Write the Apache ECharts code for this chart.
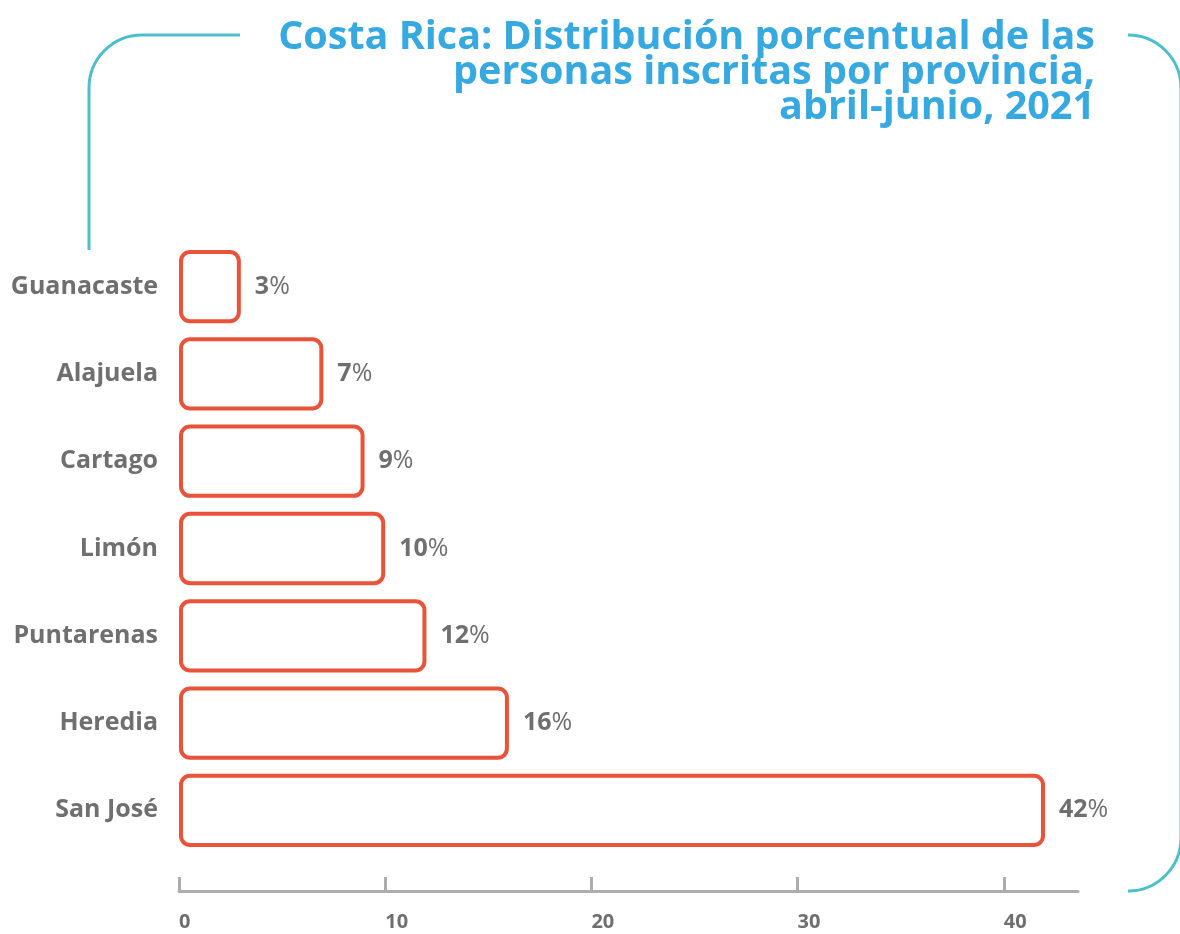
<!DOCTYPE html>
<html>
<head>
<meta charset="utf-8">
<style>
  html, body { margin: 0; padding: 0; background: #ffffff; }
  #chart { width: 1180px; height: 934px; }
</style>
<script src="https://cdn.jsdelivr.net/npm/echarts@6/dist/echarts.min.js"></script>
</head>
<body>
<div id="chart"></div>
<script>
// Provinces listed bottom to top (category axis grows upward)
const provinces = ['San José', 'Heredia', 'Puntarenas', 'Limón', 'Cartago', 'Alajuela', 'Guanacaste'];
// Share of enrolled people per province, in percent
const shares = [42, 16, 12, 10, 9, 7, 3];
// Values shown on the horizontal axis
const axisTicks = [0, 10, 20, 30, 40];

const titleLines = [
  'Costa Rica: Distribución porcentual de las',
  'personas inscritas por provincia,',
  'abril-junio, 2021'
];

const GREY = '#6f6f6f';
const RED = '#e8533a';
const TEAL = '#4bbfca';
const BLUE = '#36a9e1';
const FONT = 'Open Sans';

const chart = echarts.init(document.getElementById('chart'), null, { renderer: 'canvas' });

const frameStyle = { fill: 'none', stroke: TEAL, lineWidth: 3 };
const R = 53;

chart.setOption({
  backgroundColor: '#ffffff',
  animation: false,
  title: {
    text: titleLines.join('\n'),
    left: 1090,
    top: 15,
    textAlign: 'right',
    textStyle: {
      color: BLUE,
      fontFamily: FONT,
      fontWeight: 'bold',
      fontSize: 39.5,
      lineHeight: 35,
      align: 'right'
    }
  },
  grid: { left: 179, top: 243, width: 899, height: 611, containLabel: false },
  xAxis: {
    type: 'value',
    min: 0,
    max: 43.6,
    interval: 10,
    offset: 37,
    splitLine: { show: false },
    axisLine: { show: true, lineStyle: { color: '#adadad', width: 3 } },
    axisTick: {
      show: true,
      inside: true,
      length: 14,
      customValues: axisTicks,
      lineStyle: { color: '#adadad', width: 3 }
    },
    axisLabel: {
      customValues: axisTicks,
      align: 'left',
      margin: 21,
      color: GREY,
      fontFamily: FONT,
      fontWeight: 'bold',
      fontSize: 20
    }
  },
  yAxis: {
    type: 'category',
    data: provinces,
    axisLine: { show: false },
    axisTick: { show: false },
    axisLabel: {
      margin: 21,
      color: GREY,
      fontFamily: FONT,
      fontWeight: 'bold',
      fontSize: 25
    }
  },
  series: [{
    type: 'bar',
    data: shares,
    barWidth: '84%',
    itemStyle: {
      color: '#ffffff',
      borderColor: RED,
      borderWidth: 4,
      borderRadius: 9
    },
    label: {
      show: true,
      position: 'right',
      distance: 14,
      formatter: p => '{n|' + p.value + '}{p|%}',
      rich: {
        n: { color: GREY, fontFamily: FONT, fontWeight: 'bold', fontSize: 25 },
        p: { color: GREY, fontFamily: FONT, fontWeight: 'normal', fontSize: 25 }
      }
    }
  }],
  graphic: [
    // upper-left bracket of the frame
    { type: 'line', shape: { x1: 89, y1: 250, x2: 89, y2: 35 + R }, style: frameStyle },
    { type: 'arc', shape: { cx: 89 + R, cy: 35 + R, r: R, startAngle: Math.PI, endAngle: Math.PI * 1.5, clockwise: true }, style: frameStyle },
    { type: 'line', shape: { x1: 89 + R, y1: 35, x2: 240, y2: 35 }, style: frameStyle },
    // right-hand bracket of the frame
    { type: 'arc', shape: { cx: 1128, cy: 35 + R, r: R, startAngle: -Math.PI / 2, endAngle: 0, clockwise: true }, style: frameStyle },
    { type: 'line', shape: { x1: 1128 + R, y1: 35 + R, x2: 1128 + R, y2: 891 - R }, style: frameStyle },
    { type: 'arc', shape: { cx: 1128, cy: 891 - R, r: R, startAngle: 0, endAngle: Math.PI / 2, clockwise: true }, style: frameStyle }
  ]
});
</script>
</body>
</html>
